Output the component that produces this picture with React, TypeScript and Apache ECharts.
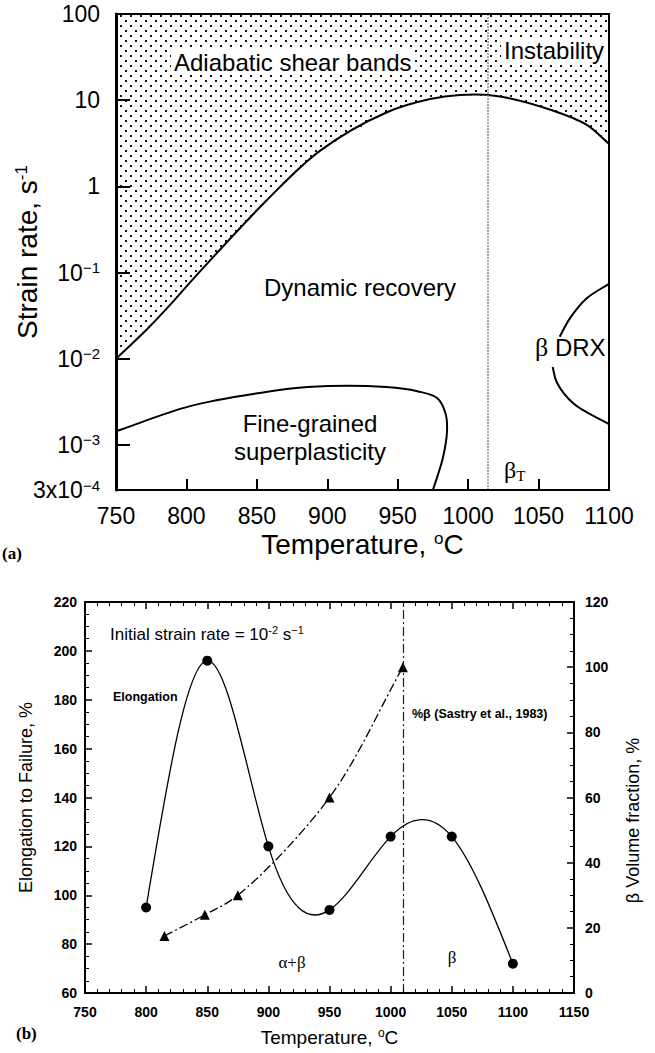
import React, { useEffect, useRef } from 'react';
import * as echarts from 'echarts';

const SANS = '"Liberation Sans", Arial, Helvetica, sans-serif';
const SERIF = '"Liberation Serif", "Times New Roman", serif';

// ---- (a) Processing map: temperature (°C) vs strain rate (s^-1) ----
const shearBandBoundary: [number, number][] = [
  [750, 0.01], [772, 0.022], [791, 0.047], [805, 0.085], [857, 0.69],
  [895, 2.6], [942, 7.2], [973, 10.3], [994, 11.5], [1020, 11.2],
  [1060, 7.6], [1084, 5.2], [1100, 3.1],
];
const superplasticBoundary: [number, number][] = [
  [750, 1.44e-3], [802, 2.8e-3], [852, 4.0e-3], [886, 4.7e-3], [942, 4.7e-3],
  [964, 4.2e-3], [978, 3.5e-3], [984, 2.3e-3], [985, 1.44e-3], [982, 7e-4], [975, 3e-4],
];
const drxUpper: [number, number][] = [[1065, 0.018], [1072, 0.029], [1084, 0.05], [1100, 0.074]];
const drxLower: [number, number][] = [[1060, 0.008], [1063, 5.3e-3], [1075, 3.0e-3], [1100, 1.74e-3]];
const betaTransus = 1014;
const mapTempRange = [750, 1100];
const rateRange = [3e-4, 100];

// ---- (b) Elongation and beta volume fraction ----
const elongTemps = [800, 850, 900, 950, 1000, 1050, 1100];
const elongation = [95, 196, 120, 94, 124, 124, 72];
const betaTemps = [815, 848, 875, 950, 1010];
const betaFraction = [17.5, 24, 30, 60, 100];
const betaTransusLine = 1010;
const tempRangeB = [750, 1150];
const elongRange = [60, 220];
const fractionRange = [0, 120];

function rateLabel(v: number): string {
  const ex = Math.floor(Math.log10(v) + 1e-9);
  const m = Math.round(v / Math.pow(10, ex));
  if (ex >= 0) return String(Math.round(v));
  const pow = `10{s|−${-ex}}`;
  return m === 1 ? pow : `${m}x${pow}`;
}

const plain = (v: number) => String(v);

// Centripetal Catmull-Rom curve through pixel points, as cubic Bezier path data.
function catmullRomPath(pts: number[][]): string {
  const n = pts.length;
  if (n < 2) return '';
  const get = (i: number) => {
    if (i < 0) return [2 * pts[0][0] - pts[1][0], 2 * pts[0][1] - pts[1][1]];
    if (i >= n) return [2 * pts[n - 1][0] - pts[n - 2][0], 2 * pts[n - 1][1] - pts[n - 2][1]];
    return pts[i];
  };
  const da = (a: number[], b: number[]) => Math.max(Math.pow(Math.hypot(b[0] - a[0], b[1] - a[1]), 0.5), 1e-6);
  let d = `M${pts[0][0]},${pts[0][1]}`;
  for (let i = 0; i < n - 1; i++) {
    const p0 = get(i - 1), p1 = pts[i], p2 = pts[i + 1], p3 = get(i + 2);
    const d1 = da(p0, p1), d2 = da(p1, p2), d3 = da(p2, p3);
    const b1 = [0, 1].map(k => (d1 * d1 * p2[k] - d2 * d2 * p0[k] + (2 * d1 * d1 + 3 * d1 * d2 + d2 * d2) * p1[k]) / (3 * d1 * (d1 + d2)));
    const b2 = [0, 1].map(k => (d3 * d3 * p1[k] - d2 * d2 * p3[k] + (2 * d3 * d3 + 3 * d3 * d2 + d2 * d2) * p2[k]) / (3 * d3 * (d3 + d2)));
    d += ` C${b1[0]},${b1[1]} ${b2[0]},${b2[1]} ${p2[0]},${p2[1]}`;
  }
  return d;
}

// Natural cubic spline (x monotonic) through pixel points, as cubic Bezier path data.
function naturalSplinePath(pts: number[][]): string {
  const n = pts.length;
  const x = pts.map(p => p[0]);
  const y = pts.map(p => p[1]);
  const h: number[] = [];
  for (let i = 0; i < n - 1; i++) h.push(x[i + 1] - x[i]);
  const M = new Array(n).fill(0);
  if (n > 2) {
    const a: number[] = [], b: number[] = [], c: number[] = [], r: number[] = [];
    for (let i = 1; i < n - 1; i++) {
      a.push(h[i - 1]);
      b.push(2 * (h[i - 1] + h[i]));
      c.push(h[i]);
      r.push(6 * ((y[i + 1] - y[i]) / h[i] - (y[i] - y[i - 1]) / h[i - 1]));
    }
    const m = b.length;
    for (let i = 1; i < m; i++) {
      const w = a[i] / b[i - 1];
      b[i] -= w * c[i - 1];
      r[i] -= w * r[i - 1];
    }
    const sol = new Array(m).fill(0);
    sol[m - 1] = r[m - 1] / b[m - 1];
    for (let i = m - 2; i >= 0; i--) sol[i] = (r[i] - c[i] * sol[i + 1]) / b[i];
    for (let i = 0; i < m; i++) M[i + 1] = sol[i];
  }
  let d = `M${x[0]},${y[0]}`;
  for (let i = 0; i < n - 1; i++) {
    const s = (y[i + 1] - y[i]) / h[i];
    const s0 = s - (h[i] * (2 * M[i] + M[i + 1])) / 6;
    const s1 = s + (h[i] * (M[i] + 2 * M[i + 1])) / 6;
    d += ` C${x[i] + h[i] / 3},${y[i] + (s0 * h[i]) / 3} ${x[i + 1] - h[i] / 3},${y[i + 1] - (s1 * h[i]) / 3} ${x[i + 1]},${y[i + 1]}`;
  }
  return d;
}

// Custom series item that draws one smooth curve through all of the series' points.
function curveRenderer(kind: 'cr' | 'natural', style: any) {
  return (params: any, api: any) => {
    if (params.dataIndexInside !== 0) return null;
    const pts: number[][] = [];
    for (let i = 0; i < params.dataInsideLength; i++) {
      pts.push(api.coord([api.value(0, i), api.value(1, i)]));
    }
    const pathData = kind === 'cr' ? catmullRomPath(pts) : naturalSplinePath(pts);
    return { type: 'path', shape: { pathData }, style: { fill: 'none', stroke: '#000', ...style } };
  };
}

function text(x: number, y: number, t: string, opts: any = {}) {
  const { size = 24, family = SANS, weight = 'normal', align = 'left', bg, rich } = opts;
  return {
    type: 'text',
    x,
    y,
    z: 100,
    style: {
      text: t,
      fill: '#000',
      fontSize: size,
      fontFamily: family,
      fontWeight: weight,
      align,
      verticalAlign: 'middle',
      textAlign: align,
      textVerticalAlign: 'middle',
      backgroundColor: bg,
      padding: bg ? [1, 3, 1, 3] : 0,
      rich,
    },
  };
}

export default function App() {
  const ref = useRef<HTMLDivElement>(null);

  useEffect(() => {
    if (!ref.current) return;
    const chart = echarts.init(ref.current, null, { renderer: 'svg' });

    const black = '#000';
    const supRich = { s: { fontSize: 15, fontFamily: SANS, verticalAlign: 'top', padding: [0, 0, 10, 0] } };

    const option: any = {
      animation: false,
      backgroundColor: '#fff',
      textStyle: { fontFamily: SANS, color: black },
      grid: [
        { left: 116, top: 14, width: 493, height: 476, show: true, borderColor: black, borderWidth: 2, backgroundColor: 'transparent', z: 10, outerBoundsMode: 'none', containLabel: false },
        { left: 85, top: 602, width: 489, height: 391, show: true, borderColor: black, borderWidth: 2, backgroundColor: 'transparent', z: 10, outerBoundsMode: 'none', containLabel: false },
      ],
      xAxis: [
        {
          gridIndex: 0, type: 'value', min: mapTempRange[0], max: mapTempRange[1], interval: 50, z: 10,
          axisLine: { lineStyle: { color: black, width: 2 } },
          axisTick: { inside: true, length: 11, lineStyle: { color: black, width: 2 } },
          axisLabel: { color: black, fontSize: 23, fontFamily: SANS, margin: 14, formatter: plain, showMinLabel: true, showMaxLabel: true, hideOverlap: false },
          splitLine: { show: false },
          name: 'Temperature, {s|o}C', nameLocation: 'middle', nameGap: 40, nameMoveOverlap: false,
          nameTextStyle: { color: black, fontSize: 28, fontFamily: SANS, rich: { s: { fontSize: 17, fontFamily: SANS, verticalAlign: 'top', padding: [0, 0, 12, 0] } } },
        },
        {
          gridIndex: 1, type: 'value', min: tempRangeB[0], max: tempRangeB[1], interval: 50, z: 10,
          axisLine: { lineStyle: { color: black, width: 2 } },
          axisTick: { inside: true, length: 7, lineStyle: { color: black, width: 1.5 } },
          minorTick: { show: true, splitNumber: 5, length: 4, lineStyle: { color: black, width: 1 } },
          axisLabel: { color: black, fontSize: 14, fontWeight: 'bold', fontFamily: SANS, margin: 12, formatter: plain, showMinLabel: true, showMaxLabel: true, hideOverlap: false },
          splitLine: { show: false }, minorSplitLine: { show: false },
          name: 'Temperature, {s|o}C', nameLocation: 'middle', nameGap: 34, nameMoveOverlap: false,
          nameTextStyle: { color: black, fontSize: 19, fontFamily: SANS, rich: { s: { fontSize: 12, fontFamily: SANS, verticalAlign: 'top', padding: [0, 0, 8, 0] } } },
        },
        {
          gridIndex: 1, type: 'value', position: 'top', min: tempRangeB[0], max: tempRangeB[1], interval: 50, z: 10,
          axisLine: { lineStyle: { color: black, width: 2 } },
          axisTick: { inside: true, length: 7, lineStyle: { color: black, width: 1.5 } },
          minorTick: { show: true, splitNumber: 5, length: 4, lineStyle: { color: black, width: 1 } },
          axisLabel: { show: false },
          splitLine: { show: false }, minorSplitLine: { show: false },
        },
      ],
      yAxis: [
        {
          gridIndex: 0, type: 'log', logBase: 10, min: rateRange[0], max: rateRange[1], z: 10,
          axisLine: { lineStyle: { color: black, width: 3 } },
          axisTick: { inside: true, length: 14, lineStyle: { color: black, width: 2 } },
          axisLabel: { color: black, fontSize: 23, fontFamily: SANS, margin: 16, formatter: rateLabel, rich: supRich, showMinLabel: true, showMaxLabel: true, hideOverlap: false },
          splitLine: { show: false }, minorTick: { show: false }, minorSplitLine: { show: false },
          name: 'Strain rate, s{s|-1}', nameLocation: 'middle', nameGap: 74, nameMoveOverlap: false,
          nameTextStyle: { color: black, fontSize: 28, fontFamily: SANS, rich: { s: { fontSize: 17, fontFamily: SANS, verticalAlign: 'top', padding: [0, 0, 12, 0] } } },
        },
        {
          gridIndex: 1, type: 'value', min: elongRange[0], max: elongRange[1], interval: 20, z: 10,
          axisLine: { lineStyle: { color: black, width: 2 } },
          axisTick: { inside: true, length: 7, lineStyle: { color: black, width: 1.5 } },
          minorTick: { show: true, splitNumber: 4, length: 4, lineStyle: { color: black, width: 1 } },
          axisLabel: { color: black, fontSize: 14, fontWeight: 'bold', fontFamily: SANS, margin: 8, showMinLabel: true, showMaxLabel: true },
          splitLine: { show: false }, minorSplitLine: { show: false },
          name: 'Elongation to Failure, %', nameLocation: 'middle', nameGap: 50, nameMoveOverlap: false,
          nameTextStyle: { color: black, fontSize: 18, fontFamily: SANS },
        },
        {
          gridIndex: 1, type: 'value', position: 'right', min: fractionRange[0], max: fractionRange[1], interval: 20, z: 10,
          axisLine: { lineStyle: { color: black, width: 2 } },
          axisTick: { inside: true, length: 7, lineStyle: { color: black, width: 1.5 } },
          minorTick: { show: true, splitNumber: 4, length: 4, lineStyle: { color: black, width: 1 } },
          axisLabel: { color: black, fontSize: 14, fontWeight: 'bold', fontFamily: SANS, margin: 11, showMinLabel: true, showMaxLabel: true },
          splitLine: { show: false }, minorSplitLine: { show: false },
          name: 'β Volume fraction, %', nameLocation: 'middle', nameGap: 50, nameMoveOverlap: false,
          nameTextStyle: { color: black, fontSize: 18, fontFamily: SANS, padding: [0, 46, 0, 0] },
        },
      ],
      series: [
        // dotted region above the shear-band boundary
        {
          name: 'Adiabatic shear bands',
          type: 'line', xAxisIndex: 0, yAxisIndex: 0,
          data: shearBandBoundary, smooth: false, symbol: 'none',
          lineStyle: { width: 0, opacity: 0 },
          itemStyle: {
            color: black,
            decal: {
              symbol: 'rect', symbolSize: 1, color: '#111', backgroundColor: '#fff',
              dashArrayX: [[1.7, 7.3], [0, 4.5, 1.7, 2.8]], dashArrayY: [1.7, 2.8], rotation: 0,
            },
          },
          areaStyle: { origin: 'end', color: '#fff', opacity: 1 },
          markLine: {
            silent: true, symbol: 'none', label: { show: false },
            lineStyle: { color: '#8a8a8a', type: [2, 1], width: 1.5 },
            data: [{ xAxis: betaTransus }],
          },
          z: 1,
        },
        {
          name: 'Shear-band boundary', type: 'custom', xAxisIndex: 0, yAxisIndex: 0,
          data: shearBandBoundary, renderItem: curveRenderer('cr', { lineWidth: 2 }), clip: false, z: 3,
        },
        {
          name: 'Fine-grained superplasticity', type: 'custom', xAxisIndex: 0, yAxisIndex: 0,
          data: superplasticBoundary, renderItem: curveRenderer('cr', { lineWidth: 2 }), clip: false, z: 3,
        },
        {
          name: 'β DRX upper', type: 'custom', xAxisIndex: 0, yAxisIndex: 0,
          data: drxUpper, renderItem: curveRenderer('cr', { lineWidth: 2 }), clip: false, z: 3,
        },
        {
          name: 'β DRX lower', type: 'custom', xAxisIndex: 0, yAxisIndex: 0,
          data: drxLower, renderItem: curveRenderer('cr', { lineWidth: 2 }), clip: false, z: 3,
        },
        // (b) curves
        {
          name: 'Elongation curve', type: 'custom', xAxisIndex: 1, yAxisIndex: 1,
          data: elongTemps.map((t, i) => [t, elongation[i]]),
          renderItem: curveRenderer('natural', { lineWidth: 1.3 }), clip: false, z: 3,
        },
        {
          name: 'Elongation', type: 'scatter', xAxisIndex: 1, yAxisIndex: 1,
          data: elongTemps.map((t, i) => [t, elongation[i]]),
          symbol: 'circle', symbolSize: 10, itemStyle: { color: black, opacity: 1 }, z: 4,
        },
        {
          name: 'β fraction curve', type: 'custom', xAxisIndex: 1, yAxisIndex: 2,
          data: betaTemps.map((t, i) => [t, betaFraction[i]]),
          renderItem: curveRenderer('cr', { lineWidth: 1.3, lineDash: [9, 3, 2, 3] }), clip: false, z: 3,
        },
        {
          name: '%β (Sastry et al., 1983)', type: 'scatter', xAxisIndex: 1, yAxisIndex: 2,
          data: betaTemps.map((t, i) => [t, betaFraction[i]]),
          symbol: 'triangle', symbolSize: 10, itemStyle: { color: black, opacity: 1 },
          markLine: {
            silent: true, symbol: 'none', label: { show: false },
            lineStyle: { color: '#222', type: [9, 3, 2, 3], width: 1.2 },
            data: [{ xAxis: betaTransusLine }],
          },
          z: 4,
        },
      ],
      graphic: [
        text(171, 62, 'Adiabatic shear bands', { bg: '#fff' }),
        text(501, 50, 'Instability', { bg: '#fff' }),
        text(360, 287, 'Dynamic recovery', { align: 'center' }),
        text(310, 423, 'Fine-grained', { align: 'center' }),
        text(310, 451, 'superplasticity', { align: 'center' }),
        text(535, 347, '{b|β} DRX', { rich: { b: { fontSize: 26, fontFamily: SERIF } } }),
        text(504, 470, 'β{t|T}', { family: SERIF, size: 24, rich: { t: { fontSize: 15, fontFamily: SERIF, verticalAlign: 'bottom', padding: [12, 0, 0, 0] } } }),
        text(2, 553, '(a)', { family: SERIF, size: 17, weight: 'bold' }),
        text(110, 634, 'Initial strain rate = 10{s|-2} s{s|−1}', { size: 17, rich: { s: { fontSize: 11, fontFamily: SANS, verticalAlign: 'top', padding: [0, 0, 8, 0] } } }),
        text(113, 697, 'Elongation', { size: 12.5, weight: 'bold' }),
        text(412, 714, '%β (Sastry et al., 1983)', { size: 12.5, weight: 'bold' }),
        text(292, 962, 'α+β', { family: SERIF, size: 17, align: 'center' }),
        text(452, 957, 'β', { family: SERIF, size: 17, align: 'center' }),
        text(16, 1033, '(b)', { family: SERIF, size: 17, weight: 'bold' }),
      ],
    };

    chart.setOption(option);
    return () => chart.dispose();
  }, []);

  return (
    <div
      ref={ref}
      style={{ position: 'absolute', left: 0, top: 0, width: 655, height: 1053, background: '#fff' }}
    />
  );
}
